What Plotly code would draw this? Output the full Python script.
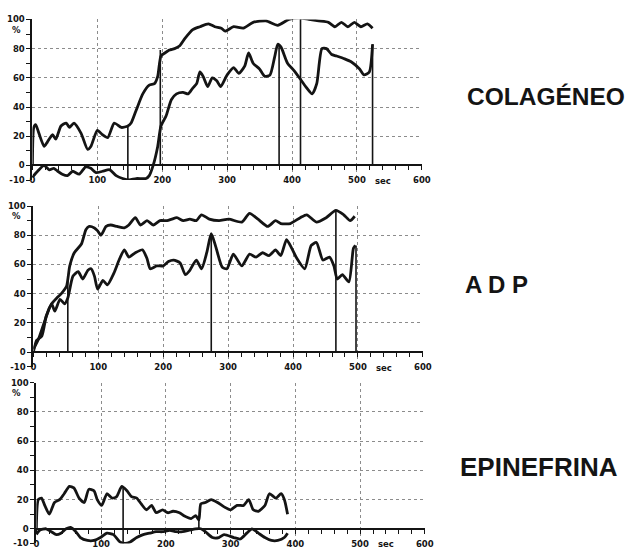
import plotly.graph_objects as go

# ---------------- DATA ----------------
# Panel 1: COLAGÉNEO
col_a_t = [0, 2, 5, 10, 18, 23, 31, 36, 44, 52, 57, 64, 75, 85, 90, 100, 108, 116, 126, 137, 147, 152, 160, 170, 180,
           188, 193, 198, 204, 211, 219, 227, 235, 247, 258, 271, 281, 291, 297, 310, 325, 340, 360, 378, 395, 413, 426,
           441, 456, 466, 476, 486, 496, 506, 516, 524]
col_a_v = [0, 26, 28, 22, 13, 16, 21, 18, 27, 29, 26, 29, 22, 11, 13, 24, 21, 19, 29, 26, 27, 29, 38, 49, 55,
           56, 61, 75, 77, 79, 80, 82, 87, 93, 95, 97, 95, 94, 92, 95, 94, 98, 99, 96, 100, 101, 100,
           99, 98, 95, 98, 95, 98, 95, 97, 94]
col_b_t = [0, 8, 18, 26, 33, 39, 46, 54, 62, 72, 82, 90, 98, 108, 119, 129, 139, 149, 160, 175, 180, 186, 193, 198,
           206, 214, 222, 232, 240, 247, 253, 258, 263, 270, 277, 284, 290, 300, 310, 318, 327, 333, 340, 350, 358,
           366, 373, 378, 383, 393, 403, 413, 421, 431, 438, 446, 453, 461, 468, 481, 491, 504, 511, 519, 524]
col_b_v = [-8, -4, 0, -3, -2, -4, -6, -7, -4, -6, -1, -2, -5, -4, -3, -7, -9, -10, -9, -9, -7, 0, 13, 27,
           34, 45, 49, 50, 49, 53, 56, 64, 61, 54, 60, 58, 54, 62, 67, 63, 68, 77, 70, 66, 61,
           62, 74, 83, 81, 70, 65, 59, 54, 49, 56, 80, 80, 76, 75, 73, 71, 66, 62, 64, 83]
col_mark_t = [147, 197, 380, 413, 524]
col_mark_top = [27, 79, 83, 101, 83]
col_mark_bot = [-10, 0, 0, 0, 0]

# Panel 2: ADP
adp_a_t = [0, 5, 13, 20, 28, 36, 43, 51, 56, 63, 74, 81, 86, 94, 99, 104, 112, 119, 129, 140, 147, 157, 165, 175,
           185, 195, 206, 213, 221, 231, 241, 251, 259, 271, 286, 301, 321, 333, 346, 361, 373, 381, 396, 411, 421,
           436, 451, 466, 478, 488, 495]
adp_a_v = [0, 8, 11, 25, 33, 37, 40, 45, 59, 68, 74, 84, 86, 85, 83, 80, 86, 87, 86, 85, 87, 92, 87, 90,
           87, 90, 90, 91, 92, 90, 91, 90, 94, 91, 90, 91, 89, 95, 91, 86, 90, 88, 88, 92, 94,
           89, 92, 97, 94, 90, 93]
adp_b_t = [0, 8, 18, 28, 33, 41, 48, 53, 61, 69, 76, 84, 89, 94, 99, 107, 114, 124, 132, 140, 147, 157, 168, 175,
           180, 190, 200, 208, 216, 226, 234, 241, 251, 259, 267, 274, 281, 291, 298, 308, 321, 333, 343, 353, 363,
           373, 381, 390, 398, 406, 418, 428, 436, 446, 456, 463, 468, 476, 486, 493, 496]
adp_b_v = [2, 9, 22, 33, 28, 36, 33, 37, 52, 55, 50, 56, 57, 52, 43, 49, 46, 54, 63, 70, 65, 68, 70, 64,
           57, 59, 59, 62, 63, 61, 53, 56, 63, 57, 68, 81, 72, 58, 57, 67, 59, 67, 65, 68, 66,
           70, 66, 77, 71, 64, 57, 73, 75, 63, 65, 59, 50, 53, 48, 71, 73]
adp_mark_t = [53, 274, 466, 497]
adp_mark_top = [50, 81, 97, 73]
adp_mark_bot = [0, 0, 0, 0]

# Panel 3: EPINEFRINA
epi_a_t = [0, 3, 8, 13, 20, 28, 36, 43, 51, 58, 66, 74, 81, 89, 94, 101, 109, 117, 124, 132, 140, 147, 155, 162,
           170, 178, 185, 195, 203, 211, 221, 228, 239, 246, 251, 254, 261, 270, 280, 290, 300, 310, 320, 328, 335,
           343, 353, 360, 370, 378, 383, 388]
epi_a_v = [0, 20, 21, 16, 10, 18, 20, 24, 29, 28, 21, 18, 27, 26, 20, 16, 24, 21, 22, 29, 26, 22, 21, 17,
           13, 16, 11, 13, 11, 12, 11, 9, 7, 9, 6, 17, 18, 20, 18, 15, 13, 16, 16, 20, 13,
           12, 16, 24, 21, 24, 20, 10]
epi_b_t = [0, 5, 15, 23, 31, 38, 46, 53, 61, 68, 79, 89, 99, 109, 119, 129, 137, 145, 155, 165, 175, 185, 195, 206,
           216, 226, 236, 246, 254, 261, 272, 282, 290, 305, 315, 325, 333, 343, 353, 363, 373, 383, 388]
epi_b_v = [-4, -1, 0, -2, -4, -3, 0, 1, -2, -6, -8, -8, -6, -3, -4, -9, -10, -9, -6, -4, -3, -2, -2, -1,
           -2, -2, -1, 0, 0, -2, -6, -6, -4, -6, -7, -3, 0, -3, -6, -8, -8, -6, -3]
epi_mark_t = [134, 251]
epi_mark_top = [29, 6]
epi_mark_bot = [-10, 0]

panel_labels = ["COLAGÉNEO", "A D P", "EPINEFRINA"]
x_tickvals = [0, 100, 200, 300, 400, 500, 600]
x_ticktext = ["0", "100", "200", "300", "400", "500", "600"]
y_tickvals = [-10, 0, 10, 20, 30, 40, 50, 60, 70, 80, 90, 100]
y_ticktext = ["-10", "0", "", "20", "", "40", "", "60", "", "80", "", "100"]
y_gridvals = [20, 40, 60, 80, 100]
unit_label = "%"
time_label = "sec"

panels = [
    (col_a_t, col_a_v, col_b_t, col_b_v, col_mark_t, col_mark_top, col_mark_bot),
    (adp_a_t, adp_a_v, adp_b_t, adp_b_v, adp_mark_t, adp_mark_top, adp_mark_bot),
    (epi_a_t, epi_a_v, epi_b_t, epi_b_v, epi_mark_t, epi_mark_top, epi_mark_bot),
]

# ---------------- LAYOUT ----------------
W, H = 632, 558
x_dom = [[30 / W, 427 / W], [31 / W, 428 / W], [34 / W, 430 / W]]
y_px = [(178.2, 14.7), (368.2, 204.7), (548.2, 384.7)]  # (bottom=-10, top=100)
y_dom = [[(H - b) / H, (H - t) / H] for b, t in y_px]
label_pos = [(553, 93), (503.5, 284.5), (546, 470)]
label_size = [24.5, 24, 26]

INK = "#141414"
GRID = "#8c8c8c"
tickfont = dict(family="DejaVu Sans", size=8.5, color=INK, weight="bold")

fig = go.Figure()
layout = dict(width=W, height=H, margin=dict(l=0, r=0, t=0, b=0),
              paper_bgcolor="white", plot_bgcolor="white", showlegend=False)
annotations = []

for i, (at, av, bt, bv, mt, mtop, mbot) in enumerate(panels):
    n = "" if i == 0 else str(i + 1)
    xr, yr = "x" + n, "y" + n
    for tt, vv in ((at, av), (bt, bv)):
        fig.add_trace(go.Scatter(x=tt, y=vv, xaxis=xr, yaxis=yr, mode="lines",
                                 line=dict(color=INK, width=2.8, shape="spline", smoothing=0.6),
                                 hoverinfo="skip"))
    mx, my = [], []
    for t, top, bot in zip(mt, mtop, mbot):
        mx += [t, t, None]
        my += [top, bot, None]
    fig.add_trace(go.Scatter(x=mx, y=my, xaxis=xr, yaxis=yr, mode="lines",
                             line=dict(color=INK, width=1.6), hoverinfo="skip"))

    d0, d1 = y_dom[i]
    zero_pos = d0 + (0 - (-10)) / 110 * (d1 - d0)
    layout["xaxis" + n] = dict(
        domain=x_dom[i], range=[0, 600], anchor="free", position=zero_pos,
        showline=True, linecolor=INK, linewidth=1.6,
        ticks="outside", ticklen=4, tickwidth=1.4, tickcolor=INK,
        tickmode="array", tickvals=x_tickvals, ticktext=x_ticktext, tickfont=tickfont,
        ticklabelstandoff=3,
        showgrid=True, gridcolor=GRID, griddash="dot", gridwidth=1, zeroline=False,
        minor=dict(dtick=20, tick0=0, ticks="outside", ticklen=4, tickwidth=1.4,
                   tickcolor=INK, showgrid=False),
        fixedrange=True,
    )
    layout["yaxis" + n] = dict(
        domain=y_dom[i], range=[-10, 100], anchor=xr,
        showline=True, linecolor=INK, linewidth=2,
        ticks="outside", ticklen=4, tickwidth=1.4, tickcolor=INK,
        tickmode="array", tickvals=y_tickvals, ticktext=y_ticktext, tickfont=tickfont,
        showgrid=False, zeroline=False,
        minor=dict(tickmode="array", tickvals=y_gridvals, showgrid=True, gridcolor=GRID,
                   griddash="dot", gridwidth=1, ticks=""),
        fixedrange=True,
    )
    annotations.append(dict(xref="paper", yref=yr, x=14 / W, y=93, text=unit_label,
                            showarrow=False, font=tickfont, xanchor="center", yanchor="middle"))
    annotations.append(dict(xref=xr, yref=yr, x=540, y=-10, text=time_label,
                            showarrow=False, font=tickfont, xanchor="center", yanchor="middle",
                            yshift=-1))
    lx, ly = label_pos[i]
    annotations.append(dict(xref="paper", yref="paper", x=lx / W, y=(H - ly) / H,
                            text=panel_labels[i], showarrow=False,
                            font=dict(family="Liberation Sans", size=label_size[i], color=INK,
                                      weight="bold"),
                            xanchor="center", yanchor="middle"))

layout["annotations"] = annotations
fig.update_layout(**layout)
fig.write_html("out.html", config={"displayModeBar": False},
               post_script="document.body.style.margin='0';")
